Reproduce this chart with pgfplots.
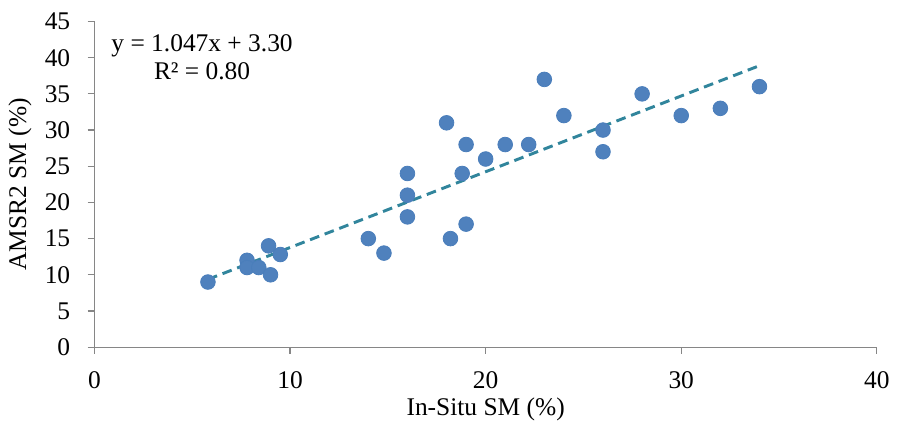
\documentclass[border=0pt]{standalone}
\usepackage{pgfplots}
\pgfplotsset{compat=1.18}
\usepackage{fontspec}
\setmainfont{Liberation Serif}
\definecolor{ptblue}{HTML}{4F81BD}
\definecolor{ptedge}{HTML}{4A7EBB}
\definecolor{trend}{HTML}{31859C}
\definecolor{axgray}{HTML}{868686}
\begin{document}
\fontsize{26}{31}\selectfont
\begin{tikzpicture}
\begin{axis}[
    scale only axis,
    width=800pt, height=333pt,
    xmin=0, xmax=40, ymin=0, ymax=45,
    xtick={0,10,...,40},
    ytick={0,5,...,45},
    axis x line*=bottom, axis y line*=left,
    axis line style={axgray, line width=1.2pt},
    tick style={axgray, line width=1.2pt},
    tick align=outside,
    major tick length=7pt,
    /pgf/number format/assume math mode=true,
    ticklabel style={font=\fontsize{26}{31}\selectfont},
    xticklabel style={yshift=-9pt},
    yticklabel style={xshift=-9pt},
    xlabel={In-Situ SM (\%)},
    ylabel={AMSR2 SM (\%)},
    label style={font=\fontsize{26}{31}\selectfont},
    xlabel style={yshift=8pt},
    ylabel style={yshift=-4pt},
    clip=false,
]
\addplot[only marks, mark=*, mark size=7.5pt,
    mark options={fill=ptblue, draw=ptedge, line width=0.8pt}] coordinates {
(5.8,9) (7.8,12) (7.8,11) (8.4,11) (8.9,14) (9.0,10) (9.5,12.8)
(14,15) (14.8,13) (16,24) (16,21) (16,18) (18,31) (18.2,15)
(18.8,24) (19,28) (19,17) (20,26) (21,28) (22.2,28) (23,37)
(24,32) (26,30) (26,27) (28,35) (30,32) (32,33) (34,36)
};
\addplot[trend, line width=3pt, dash pattern=on 10pt off 6pt] coordinates {
(5.8,9.37) (34,38.90)
};
\node[align=center, font=\fontsize{26}{29}\selectfont] at (axis cs:5.5,40.1)
    {y = 1.047x + 3.30\\R² = 0.80};
\path (rel axis cs:0,1) ++(0,22pt);
\end{axis}
\end{tikzpicture}
\end{document}
